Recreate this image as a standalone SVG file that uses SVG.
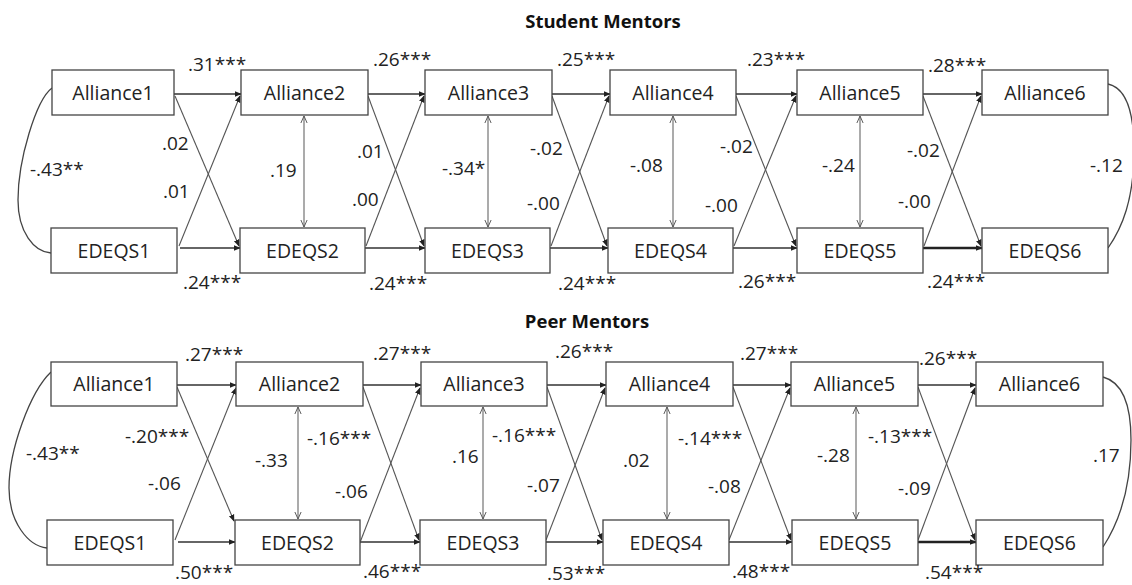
<svg xmlns="http://www.w3.org/2000/svg" width="1132" height="585" viewBox="0 0 1132 585">
<defs>
<marker id="ah" viewBox="0 0 10 10" refX="9" refY="5" markerWidth="7" markerHeight="7" orient="auto" markerUnits="userSpaceOnUse"><path d="M0,1 L10,5 L0,9 z" fill="#222"/></marker>
<marker id="oh" viewBox="0 0 10 10" refX="9" refY="5" markerWidth="8" markerHeight="8" orient="auto-start-reverse" markerUnits="userSpaceOnUse"><path d="M0,1 L9,5 L0,9" fill="none" stroke="#555" stroke-width="1.2"/></marker>
<style>
.box{fill:#fff;stroke:#444;stroke-width:1.3}
.nl{font-family:"Open Sans","Liberation Sans",sans-serif;font-size:19.5px;fill:#222;text-anchor:middle}
.lb{font-family:"Open Sans","Liberation Sans",sans-serif;font-size:19px;fill:#222}
.tt{font-family:"Open Sans","Liberation Sans",sans-serif;font-size:18.5px;font-weight:bold;fill:#111;text-anchor:middle}
.h{stroke:#333;stroke-width:1.4;fill:none;marker-end:url(#ah)}
.hb{stroke:#222;stroke-width:2.4;fill:none;marker-end:url(#ah)}
.x{stroke:#555;stroke-width:1.1;fill:none;marker-end:url(#ah)}
.v{stroke:#666;stroke-width:1.1;fill:none;marker-start:url(#oh);marker-end:url(#oh)}
.c{stroke:#444;stroke-width:1.3;fill:none}
</style>
</defs>
<text class="tt" x="603" y="28">Student Mentors</text>
<text class="tt" x="587" y="328">Peer Mentors</text>

<g id="connectors">
<!-- top panel -->
<path class="h" d="M174,94 L241,94"/>
<path class="h" d="M368,94 L425,94"/>
<path class="h" d="M552,94 L610,94"/>
<path class="h" d="M736,94 L797,94"/>
<path class="h" d="M923,94 L982,94"/>
<path class="h" d="M180,248 L240,248"/>
<path class="h" d="M365,248 L425,248"/>
<path class="h" d="M550,248 L608,248"/>
<path class="h" d="M733,248 L797,248"/>
<path class="hb" d="M923,248 L982,248"/>
<path class="x" d="M175,96 L239,246"/>
<path class="x" d="M179,246 L240,96"/>
<path class="x" d="M368,96 L424,246"/>
<path class="x" d="M366,246 L424,96"/>
<path class="x" d="M552,96 L607,246"/>
<path class="x" d="M551,246 L609,96"/>
<path class="x" d="M736,96 L796,246"/>
<path class="x" d="M734,246 L796,96"/>
<path class="x" d="M923,96 L981,246"/>
<path class="x" d="M924,246 L981,96"/>
<path class="v" d="M304,116 L304,227"/>
<path class="v" d="M488,116 L488,227"/>
<path class="v" d="M673,116 L673,227"/>
<path class="v" d="M860,116 L860,227"/>
<path class="c" d="M52,88 C36,100 18,160 18,200 C18,232 34,252 51,253"/>
<path class="c" d="M1108,84 C1126,88 1134,110 1134,150 C1134,200 1122,228 1108,248"/>
<!-- bottom panel -->
<path class="h" d="M177,385 L236,385"/>
<path class="h" d="M363,385 L421,385"/>
<path class="h" d="M547,385 L606,385"/>
<path class="h" d="M733,385 L791,385"/>
<path class="h" d="M918,385 L976,385"/>
<path class="h" d="M178,542 L235,542"/>
<path class="h" d="M360,542 L420,542"/>
<path class="h" d="M546,542 L603,542"/>
<path class="h" d="M729,542 L792,542"/>
<path class="hb" d="M918,542 L976,542"/>
<path class="x" d="M177,387 L234,521"/>
<path class="x" d="M175,540 L236,388"/>
<path class="x" d="M363,387 L419,540"/>
<path class="x" d="M359,545 L420,388"/>
<path class="x" d="M547,387 L602,540"/>
<path class="x" d="M546,540 L605,388"/>
<path class="x" d="M733,387 L791,540"/>
<path class="x" d="M729,540 L790,388"/>
<path class="x" d="M918,387 L975,540"/>
<path class="x" d="M918,540 L975,388"/>
<path class="v" d="M298,407 L298,519"/>
<path class="v" d="M483,407 L483,519"/>
<path class="v" d="M667,407 L667,519"/>
<path class="v" d="M856,407 L856,519"/>
<path class="c" d="M51,372 C30,392 9,450 9,488 C9,522 28,546 47,548"/>
<path class="c" d="M1103,377 C1122,382 1131,405 1131,440 C1131,490 1118,524 1103,547"/>
</g>

<g id="top-Alliance1"><rect class="box" x="52" y="70" width="122" height="45"/><text class="nl" x="113" y="100">Alliance1</text></g>
<g id="top-Alliance2"><rect class="box" x="241" y="70" width="127" height="45"/><text class="nl" x="304.5" y="100">Alliance2</text></g>
<g id="top-Alliance3"><rect class="box" x="425" y="70" width="127" height="45"/><text class="nl" x="488.5" y="100">Alliance3</text></g>
<g id="top-Alliance4"><rect class="box" x="610" y="70" width="126" height="45"/><text class="nl" x="673" y="100">Alliance4</text></g>
<g id="top-Alliance5"><rect class="box" x="797" y="70" width="126" height="45"/><text class="nl" x="860" y="100">Alliance5</text></g>
<g id="top-Alliance6"><rect class="box" x="982" y="70" width="126" height="45"/><text class="nl" x="1045" y="100">Alliance6</text></g>
<g id="top-EDEQS1"><rect class="box" x="51" y="228" width="126" height="45"/><text class="nl" x="114" y="258">EDEQS1</text></g>
<g id="top-EDEQS2"><rect class="box" x="240" y="228" width="125" height="45"/><text class="nl" x="302.5" y="258">EDEQS2</text></g>
<g id="top-EDEQS3"><rect class="box" x="425" y="228" width="125" height="45"/><text class="nl" x="487.5" y="258">EDEQS3</text></g>
<g id="top-EDEQS4"><rect class="box" x="608" y="228" width="125" height="45"/><text class="nl" x="670.5" y="258">EDEQS4</text></g>
<g id="top-EDEQS5"><rect class="box" x="797" y="228" width="126" height="45"/><text class="nl" x="860" y="258">EDEQS5</text></g>
<g id="top-EDEQS6"><rect class="box" x="982" y="228" width="126" height="45"/><text class="nl" x="1045" y="258">EDEQS6</text></g>

<g id="bot-Alliance1"><rect class="box" x="51" y="362" width="126" height="44"/><text class="nl" x="114" y="391">Alliance1</text></g>
<g id="bot-Alliance2"><rect class="box" x="236" y="362" width="127" height="44"/><text class="nl" x="299.5" y="391">Alliance2</text></g>
<g id="bot-Alliance3"><rect class="box" x="421" y="362" width="126" height="44"/><text class="nl" x="484" y="391">Alliance3</text></g>
<g id="bot-Alliance4"><rect class="box" x="606" y="362" width="127" height="44"/><text class="nl" x="669.5" y="391">Alliance4</text></g>
<g id="bot-Alliance5"><rect class="box" x="791" y="362" width="127" height="44"/><text class="nl" x="854.5" y="391">Alliance5</text></g>
<g id="bot-Alliance6"><rect class="box" x="976" y="362" width="127" height="44"/><text class="nl" x="1039.5" y="391">Alliance6</text></g>
<g id="bot-EDEQS1"><rect class="box" x="47" y="520" width="126" height="45"/><text class="nl" x="110" y="550">EDEQS1</text></g>
<g id="bot-EDEQS2"><rect class="box" x="235" y="520" width="125" height="45"/><text class="nl" x="297.5" y="550">EDEQS2</text></g>
<g id="bot-EDEQS3"><rect class="box" x="420" y="520" width="126" height="45"/><text class="nl" x="483" y="550">EDEQS3</text></g>
<g id="bot-EDEQS4"><rect class="box" x="603" y="520" width="126" height="45"/><text class="nl" x="666" y="550">EDEQS4</text></g>
<g id="bot-EDEQS5"><rect class="box" x="792" y="520" width="126" height="45"/><text class="nl" x="855" y="550">EDEQS5</text></g>
<g id="bot-EDEQS6"><rect class="box" x="976" y="520" width="127" height="45"/><text class="nl" x="1039.5" y="550">EDEQS6</text></g>

<g id="labels-top">
<text class="lb" x="188" y="71">.31***</text>
<text class="lb" x="373" y="66">.26***</text>
<text class="lb" x="557" y="66">.25***</text>
<text class="lb" x="747" y="66">.23***</text>
<text class="lb" x="928" y="72">.28***</text>
<text class="lb" x="183" y="289">.24***</text>
<text class="lb" x="369" y="290">.24***</text>
<text class="lb" x="558" y="290">.24***</text>
<text class="lb" x="738" y="288">.26***</text>
<text class="lb" x="927" y="288">.24***</text>
<text class="lb" x="30" y="176">-.43**</text>
<text class="lb" x="162" y="150">.02</text>
<text class="lb" x="163" y="198">.01</text>
<text class="lb" x="270" y="177">.19</text>
<text class="lb" x="357" y="158">.01</text>
<text class="lb" x="352" y="206">.00</text>
<text class="lb" x="442" y="175">-.34*</text>
<text class="lb" x="530" y="155">-.02</text>
<text class="lb" x="527" y="210">-.00</text>
<text class="lb" x="630" y="172">-.08</text>
<text class="lb" x="720" y="153">-.02</text>
<text class="lb" x="705" y="212">-.00</text>
<text class="lb" x="822" y="172">-.24</text>
<text class="lb" x="907" y="157">-.02</text>
<text class="lb" x="898" y="208">-.00</text>
<text class="lb" x="1090" y="172">-.12</text>
</g>
<g id="labels-bottom">
<text class="lb" x="185" y="361">.27***</text>
<text class="lb" x="373" y="360">.27***</text>
<text class="lb" x="555" y="358">.26***</text>
<text class="lb" x="740" y="360">.27***</text>
<text class="lb" x="919" y="365">.26***</text>
<text class="lb" x="175" y="579">.50***</text>
<text class="lb" x="363" y="578">.46***</text>
<text class="lb" x="547" y="580">.53***</text>
<text class="lb" x="732" y="578">.48***</text>
<text class="lb" x="925" y="579">.54***</text>
<text class="lb" x="26" y="460">-.43**</text>
<text class="lb" x="125" y="443">-.20***</text>
<text class="lb" x="148" y="490">-.06</text>
<text class="lb" x="255" y="467">-.33</text>
<text class="lb" x="307" y="445">-.16***</text>
<text class="lb" x="335" y="498">-.06</text>
<text class="lb" x="452" y="463">.16</text>
<text class="lb" x="492" y="442">-.16***</text>
<text class="lb" x="527" y="492">-.07</text>
<text class="lb" x="623" y="467">.02</text>
<text class="lb" x="678" y="445">-.14***</text>
<text class="lb" x="708" y="493">-.08</text>
<text class="lb" x="817" y="462">-.28</text>
<text class="lb" x="868" y="443">-.13***</text>
<text class="lb" x="898" y="495">-.09</text>
<text class="lb" x="1093" y="462">.17</text>
</g>
</svg>
